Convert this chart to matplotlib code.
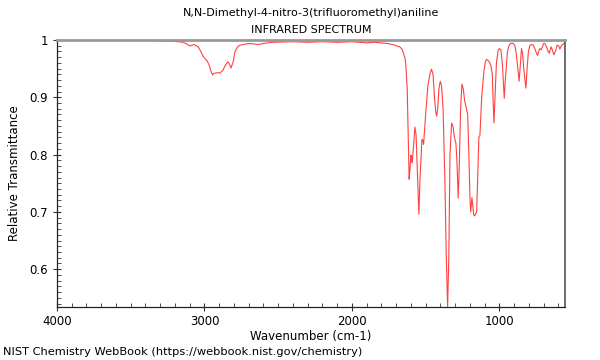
import matplotlib
matplotlib.use("Agg")
import matplotlib.pyplot as plt
from matplotlib.ticker import MultipleLocator, FuncFormatter

title_name = "N,N-Dimethyl-4-nitro-3(trifluoromethyl)aniline"
title_kind = "INFRARED SPECTRUM"
x_label = "Wavenumber (cm-1)"
y_label = "Relative Transmittance"
footer = "NIST Chemistry WebBook (https://webbook.nist.gov/chemistry)"

wavenumber = [4000, 3600, 3300, 3234, 3180, 3144, 3120, 3098, 3085, 3071, 3055, 3042, 3025,
              3008, 2995, 2986, 2975, 2968, 2955, 2945, 2935, 2929, 2910, 2895, 2880, 2873,
              2860, 2843, 2830, 2820, 2805, 2793, 2775, 2759, 2720, 2692, 2660, 2635, 2600,
              2534, 2400, 2300, 2200, 2100, 2000, 1950, 1900, 1850, 1800, 1765, 1720, 1700,
              1675, 1660, 1652, 1640, 1634, 1625, 1618, 1612, 1606, 1600, 1595, 1591, 1582, 1573,
              1565, 1555, 1546, 1538, 1525, 1518, 1514, 1500, 1485, 1470, 1460, 1450, 1440,
              1432, 1426, 1418, 1410, 1401, 1392, 1382, 1370, 1360, 1351, 1343, 1335, 1324,
              1315, 1305, 1295, 1288, 1279, 1272, 1263, 1254, 1245, 1236, 1227, 1215, 1207,
              1200, 1195, 1190, 1186, 1180, 1174, 1168, 1160, 1154, 1147, 1139, 1132, 1120,
              1105, 1095, 1087, 1075, 1065, 1058, 1048, 1042, 1037, 1030, 1020, 1008, 998,
              990, 980, 972, 967, 960, 945, 935, 924, 906, 895, 885, 875, 866, 860, 850, 842,
              835, 826, 820, 812, 803, 793, 782, 771, 760, 750, 741, 733, 725, 716, 708, 700,
              692, 680, 670, 662, 655, 649, 640, 631, 620, 608, 598, 590, 580, 563, 550]
transmittance = [1.0, 1.0, 0.999, 0.998, 0.997, 0.996, 0.993, 0.9895, 0.991, 0.992, 0.990,
                 0.988, 0.980, 0.971, 0.967, 0.965, 0.960, 0.956, 0.945, 0.939, 0.942, 0.942,
                 0.943, 0.942, 0.946, 0.948, 0.955, 0.962, 0.958, 0.951, 0.962, 0.980, 0.988,
                 0.991, 0.993, 0.994, 0.993, 0.992, 0.994, 0.996, 0.997, 0.996, 0.997, 0.996,
                 0.997, 0.996, 0.995, 0.996, 0.995, 0.994, 0.992, 0.990, 0.988, 0.984, 0.978,
                 0.968, 0.955, 0.915, 0.830, 0.757, 0.775, 0.799, 0.795, 0.786, 0.815, 0.848,
                 0.835, 0.760, 0.696, 0.760, 0.827, 0.823, 0.818, 0.870, 0.920, 0.942, 0.949,
                 0.940, 0.900, 0.875, 0.867, 0.880, 0.915, 0.928, 0.920, 0.880, 0.760, 0.620,
                 0.535, 0.620, 0.800, 0.855, 0.850, 0.830, 0.820, 0.790, 0.724, 0.780, 0.880,
                 0.923, 0.915, 0.895, 0.884, 0.870, 0.800, 0.730, 0.700, 0.715, 0.725, 0.710,
                 0.695, 0.693, 0.697, 0.700, 0.760, 0.831, 0.833, 0.900, 0.945, 0.962, 0.966,
                 0.964, 0.960, 0.956, 0.940, 0.890, 0.855, 0.900, 0.960, 0.983, 0.985, 0.983,
                 0.960, 0.920, 0.898, 0.930, 0.980, 0.990, 0.994, 0.994, 0.990, 0.975, 0.950,
                 0.928, 0.950, 0.985, 0.975, 0.950, 0.930, 0.916, 0.950, 0.980, 0.991, 0.992,
                 0.991, 0.985, 0.978, 0.973, 0.980, 0.985, 0.983, 0.988, 0.994, 0.994, 0.988,
                 0.980, 0.977, 0.983, 0.988, 0.982, 0.974, 0.980, 0.991, 0.990, 0.984, 0.990,
                 0.994, 0.994]

x_ticks = [4000, 3000, 2000, 1000]
y_ticks = [0.6, 0.7, 0.8, 0.9, 1.0]

fig = plt.figure(figsize=(6, 3.6), dpi=100)
ax = fig.add_axes([57 / 600, 1 - 307 / 360, (565 - 57) / 600, (307 - 40) / 360])
ax.plot(wavenumber, transmittance, color="#ff2020", lw=0.8, alpha=0.85)
ax.set_xlim(4000, 555)
ax.set_ylim(0.534, 1.0)

ax.set_xticks(x_ticks)
ax.set_yticks(y_ticks)
ax.xaxis.set_minor_locator(MultipleLocator(100))
ax.yaxis.set_minor_locator(MultipleLocator(0.01))
ax.yaxis.set_major_formatter(FuncFormatter(lambda v, p: "1" if abs(v - 1) < 1e-9 else f"{v:.1f}"))
ax.tick_params(which="major", direction="inout", length=6, width=0.8, labelsize=8.5, color="#333333")
ax.tick_params(which="minor", direction="in", length=3, width=0.6, color="#333333")
ax.tick_params(axis="x", pad=3)

for side in ("left", "bottom"):
    ax.spines[side].set_color("#222222")
    ax.spines[side].set_linewidth(0.9)
ax.spines["top"].set_color("#999999")
ax.spines["top"].set_linewidth(2)
ax.spines["right"].set_color("#555555")
ax.spines["right"].set_linewidth(1.2)

ax.set_xlabel(x_label, fontsize=8.5, labelpad=1)
ax.set_ylabel(y_label, fontsize=8.5, labelpad=6)
fig.text(311 / 600, 1 - 13 / 360, title_name, ha="center", va="center", fontsize=8)
fig.text(311 / 600, 1 - 30 / 360, title_kind, ha="center", va="center", fontsize=8)
fig.text(3 / 600, 1 - 352 / 360, footer, ha="left", va="center", fontsize=8.2)

fig.savefig("out.png", dpi=100)
